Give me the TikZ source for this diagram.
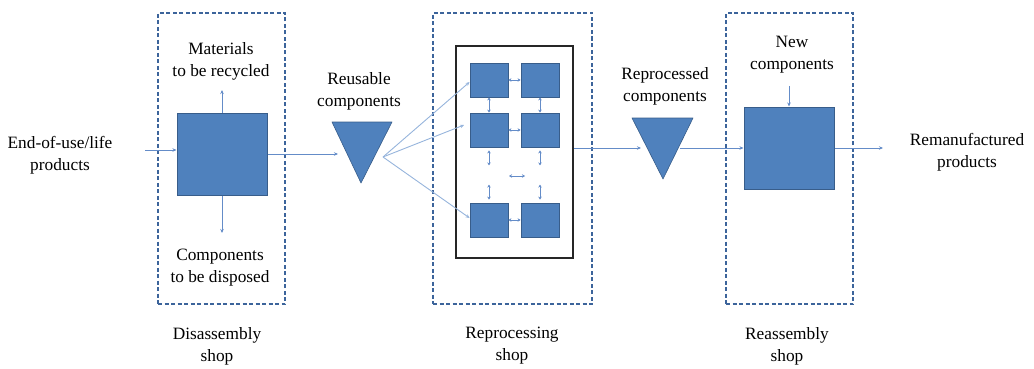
\documentclass[tikz,border=0pt]{standalone}
\usepackage{fontspec}
\setmainfont{Liberation Serif}
\usetikzlibrary{arrows.meta}
\definecolor{sqfill}{RGB}{79,129,189}
\definecolor{sqline}{RGB}{56,93,138}
\definecolor{arrowc}{RGB}{100,140,200}
\definecolor{fanc}{RGB}{150,180,220}
\definecolor{dashc}{RGB}{60,100,155}
\tikzset{
  lbl/.style={align=center, font=\fontsize{17.3}{22}\selectfont, inner sep=0pt},
  shopbox/.style={draw=dashc, line width=1.4pt, dash pattern=on 4pt off 2.5pt, minimum width=127pt, minimum height=291pt, inner sep=0pt},
  bigsq/.style={fill=sqfill, draw=sqline, line width=1pt, minimum width=90pt, minimum height=82pt, inner sep=0pt},
  smallsq/.style={fill=sqfill, draw=sqline, line width=0.8pt, minimum width=38pt, minimum height=34pt, inner sep=0pt},
  tri/.style={fill=sqfill, draw=sqline, line width=0.6pt, line join=round},
  flow/.style={draw=arrowc, line width=0.8pt, -{Stealth[length=4pt,width=3.5pt]}},
  fan/.style={draw=fanc, line width=0.9pt, -{Stealth[length=4pt,width=3.5pt]}},
  dbl/.style={draw=arrowc, line width=0.9pt, {Stealth[length=3pt,width=3.5pt]}-{Stealth[length=3pt,width=3.5pt]}}
}
\begin{document}
\begin{tikzpicture}[x=1pt,y=-1pt]
\useasboundingbox (0,0) rectangle (1034,369);
% shop boxes
\node[shopbox] (dis) at (221.5,158.5) {};
\node[shopbox, minimum width=159pt] (rep) at (512.5,158.5) {};
\node[shopbox] (rea) at (789.5,158.5) {};
% disassembly
\node[bigsq] (disSq) at (222,154) {};
% inner reprocessing box
\node[draw=black!85, line width=1.5pt, minimum width=117pt, minimum height=212pt, inner sep=0pt] (inner) at (514.5,152) {};
\node[smallsq] (a1) at (489,80) {};
\node[smallsq] (b1) at (540,80) {};
\node[smallsq] (a2) at (489,130) {};
\node[smallsq] (b2) at (540,130) {};
\node[smallsq] (a3) at (489,220) {};
\node[smallsq] (b3) at (540,220) {};
% reassembly
\node[bigsq] (reaSq) at (789,148) {};
% triangles
\draw[tri] (332,122) -- (392,122) -- (361,183) -- cycle;
\draw[tri] (632,118) -- (693,118) -- (663,179) -- cycle;
% labels
\node[lbl] (eol) at (60,155) {End-of-use/life\\products};
\node[lbl] (mat) at (221,61) {Materials\\to be recycled};
\node[lbl] (cmp) at (220,267.5) {Components\\to be disposed};
\node[lbl] (disl) at (217,346) {Disassembly\\shop};
\node[lbl] (reu) at (359,91) {Reusable\\components};
\node[lbl] (repl) at (512,346) {Reprocessing\\shop};
\node[lbl] (rpc) at (665,86) {Reprocessed\\components};
\node[lbl] (newc) at (792,55) {New\\components};
\node[lbl] (real) at (787,346) {Reassembly\\shop};
\node[lbl] (rem) at (967,152) {Remanufactured\\products};
% coordinates
\coordinate (eolOut) at (145,150);
\coordinate (disUp) at (222,90);
\coordinate (disDown) at (222,233);
\coordinate (t1in) at (338,154);
\coordinate (t1out) at (383,157);
\coordinate (f2) at (464,125);
\coordinate (t2in) at (641,148);
\coordinate (t2out) at (680,148);
\coordinate (newIn) at (789,86);
\coordinate (remIn) at (883,148);
\coordinate (midL) at (509,176);
\coordinate (midR) at (525,176);
% connectors
\draw[flow] (eolOut) -- (disSq.west |- eolOut);
\draw[flow] (disSq.east |- t1in) -- (t1in);
\draw[flow] (disSq.north) -- (disUp);
\draw[flow] (disSq.south) -- (disDown);
\draw[fan] (t1out) -- ([yshift=-2pt]a1.west);
\draw[fan] (t1out) -- (f2);
\draw[fan] (t1out) -- ([yshift=2pt]a3.west);
\draw[dbl] (a1.east) -- (b1.west);
\draw[dbl] (a2.east) -- (b2.west);
\draw[dbl] (a3.east) -- (b3.west);
\draw[dbl] (a1.south) -- (a2.north);
\draw[dbl] (b1.south) -- (b2.north);
\draw[dbl] ([yshift=-3pt]a2.south) -- ([yshift=-18pt]a2.south);
\draw[dbl] ([yshift=-3pt]b2.south) -- ([yshift=-18pt]b2.south);
\draw[dbl] ([yshift=3pt]a3.north) -- ([yshift=18pt]a3.north);
\draw[dbl] ([yshift=3pt]b3.north) -- ([yshift=18pt]b3.north);
\draw[dbl] (midL) -- (midR);
\draw[flow] (inner.east |- t2in) -- (t2in);
\draw[flow] (t2out) -- (reaSq.west |- t2out);
\draw[flow] (newIn) -- (reaSq.north);
\draw[flow] (reaSq.east) -- (remIn);
\end{tikzpicture}
\end{document}
